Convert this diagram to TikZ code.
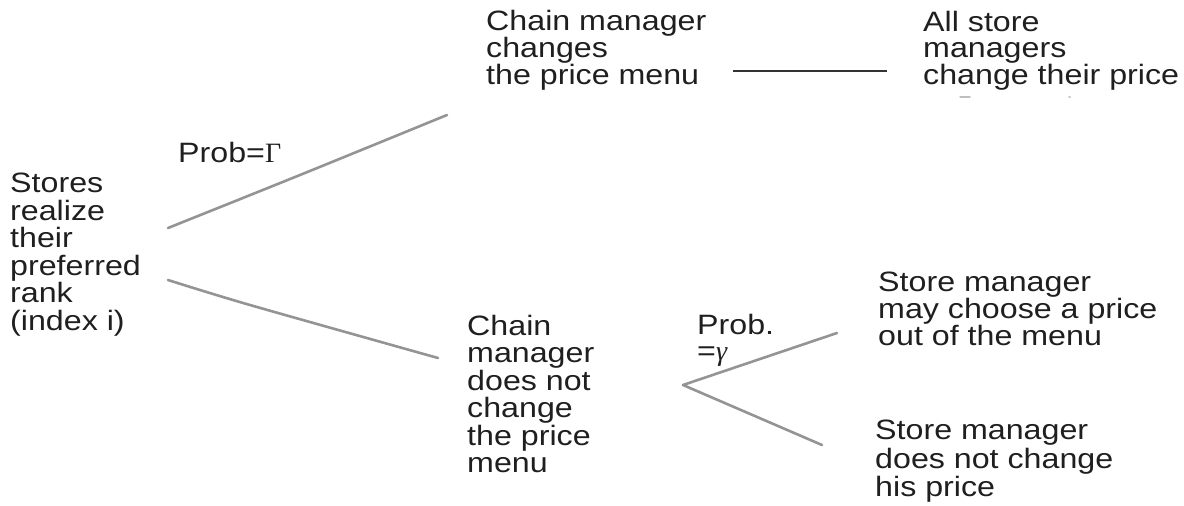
\documentclass[tikz,border=0pt]{standalone}
\usepackage{fontspec}
\setmainfont{Liberation Sans}[FakeStretch=1.15]
\newfontfamily\greekserif{Liberation Serif}
\begin{document}
\begin{tikzpicture}[x=1pt,y=-1pt,
  lbl/.style={anchor=north west, inner sep=0pt, align=left, text=black!88},
  fs/.style={font=\fontsize{28}{#1}\selectfont},
  branch/.style={draw=black!42, line width=2.6pt, line cap=round, line join=round},
  rule/.style={draw=black!80, line width=1.6pt},
  speck/.style={draw=black!25, line width=1.5pt, line cap=round}]
\useasboundingbox (0,0) rectangle (1184,506);

\node[lbl, fs=27.5] (root) at (10,173) {Stores\\realize\\their\\preferred\\rank\\(index i)};
\node[lbl, fs=26] (chg) at (486,10) {Chain manager\\changes\\the price menu};
\node[lbl, fs=26] (all) at (923,11) {All store\\managers\\change their price};
\node[lbl, fs=27.5] (nochg) at (467,315) {Chain\\manager\\does not\\change\\the price\\menu};
\node[lbl, fs=25.5] (may) at (878,272) {Store manager\\may choose a price\\out of the menu};
\node[lbl, fs=28.5] (keep) at (875,420) {Store manager\\does not change\\his price};
\node[lbl, fs=28] (pG) at (178,142) {Prob={\greekserif Γ}};
\node[lbl, fs=26] (pg) at (697,314) {Prob.\\={\greekserif\itshape γ}};

\coordinate (a1) at (168,228);
\coordinate (a2) at (447,115);
\coordinate (b1) at (168,280);
\coordinate (b2) at (438,358);
\coordinate (v) at (683,385);
\coordinate (c2) at (837,333);
\coordinate (d2) at (822,445);
\coordinate (h1) at (733,71);
\coordinate (h2) at (887,71);

\draw[branch] plot[smooth] coordinates {(a1) (300,175) (a2)};
\draw[branch] plot[smooth] coordinates {(b1) (250,305) (b2)};
\draw[branch] (c2) -- (v) -- (d2);
\draw[rule] (h1) -- (h2);

\draw[speck] (960,97) -- (970,97);
\draw[speck] (1069,97) -- (1070,97);
\end{tikzpicture}
\end{document}
